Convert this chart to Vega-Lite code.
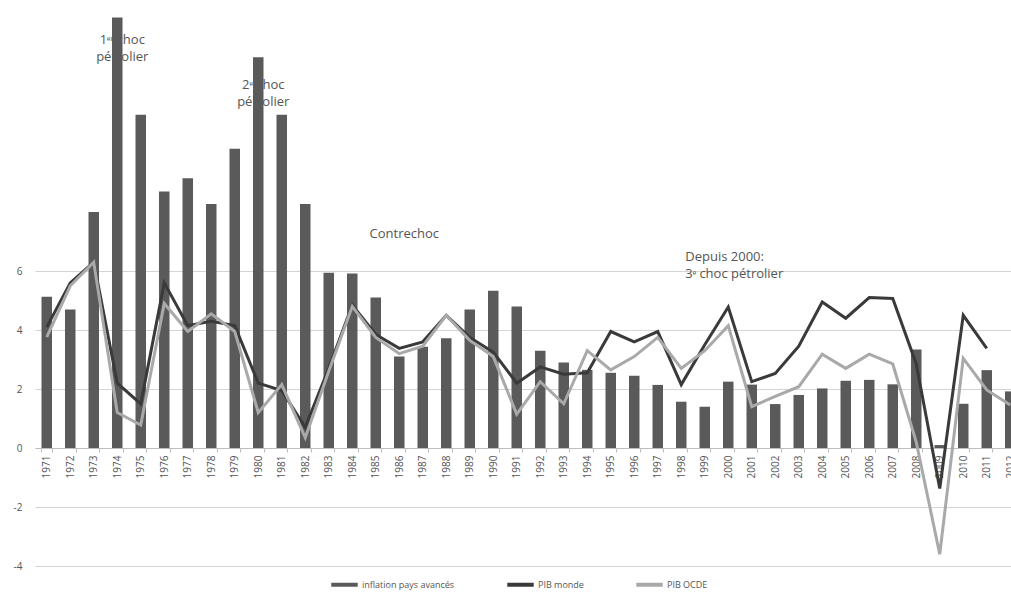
{
  "$schema": "https://vega.github.io/schema/vega-lite/v6.json",
  "autosize": "none",
  "width": 976,
  "height": 566,
  "padding": {"left": 35, "top": 0, "right": 0, "bottom": 33},
  "background": "white",
  "config": {
    "view": {"stroke": null},
    "font": "Open Sans",
    "axis": {"labelColor": "#555555", "labelFont": "Open Sans"},
    "legend": {"labelFont": "Open Sans"}
  },
  "datasets": {
    "series": [
      {"year": "1971", "inflation": 5.13, "monde": 4.1, "ocde": 3.76},
      {"year": "1972", "inflation": 4.7, "monde": 5.6, "ocde": 5.5},
      {"year": "1973", "inflation": 8.0, "monde": 6.3, "ocde": 6.3},
      {"year": "1974", "inflation": 14.6, "monde": 2.2, "ocde": 1.2},
      {"year": "1975", "inflation": 11.3, "monde": 1.5, "ocde": 0.78},
      {"year": "1976", "inflation": 8.7, "monde": 5.6, "ocde": 4.9},
      {"year": "1977", "inflation": 9.15, "monde": 4.15, "ocde": 3.95},
      {"year": "1978", "inflation": 8.27, "monde": 4.3, "ocde": 4.55},
      {"year": "1979", "inflation": 10.15, "monde": 4.15, "ocde": 3.95},
      {"year": "1980", "inflation": 13.25, "monde": 2.2, "ocde": 1.2},
      {"year": "1981", "inflation": 11.3, "monde": 1.95, "ocde": 2.15},
      {"year": "1982", "inflation": 8.27, "monde": 0.7, "ocde": 0.35},
      {"year": "1983", "inflation": 5.94, "monde": 2.7, "ocde": 2.6},
      {"year": "1984", "inflation": 5.92, "monde": 4.85, "ocde": 4.8},
      {"year": "1985", "inflation": 5.1, "monde": 3.85, "ocde": 3.75},
      {"year": "1986", "inflation": 3.1, "monde": 3.38, "ocde": 3.2},
      {"year": "1987", "inflation": 3.43, "monde": 3.6, "ocde": 3.45},
      {"year": "1988", "inflation": 3.72, "monde": 4.5, "ocde": 4.5},
      {"year": "1989", "inflation": 4.7, "monde": 3.75, "ocde": 3.65},
      {"year": "1990", "inflation": 5.33, "monde": 3.25, "ocde": 3.1},
      {"year": "1991", "inflation": 4.8, "monde": 2.2, "ocde": 1.15},
      {"year": "1992", "inflation": 3.3, "monde": 2.75, "ocde": 2.25},
      {"year": "1993", "inflation": 2.9, "monde": 2.5, "ocde": 1.5},
      {"year": "1994", "inflation": 2.65, "monde": 2.55, "ocde": 3.3},
      {"year": "1995", "inflation": 2.55, "monde": 3.95, "ocde": 2.65},
      {"year": "1996", "inflation": 2.45, "monde": 3.6, "ocde": 3.1},
      {"year": "1997", "inflation": 2.14, "monde": 3.95, "ocde": 3.75},
      {"year": "1998", "inflation": 1.57, "monde": 2.15, "ocde": 2.7},
      {"year": "1999", "inflation": 1.4, "monde": 3.5, "ocde": 3.3},
      {"year": "2000", "inflation": 2.25, "monde": 4.78, "ocde": 4.15},
      {"year": "2001", "inflation": 2.15, "monde": 2.25, "ocde": 1.4},
      {"year": "2002", "inflation": 1.49, "monde": 2.53, "ocde": 1.75},
      {"year": "2003", "inflation": 1.8, "monde": 3.45, "ocde": 2.08},
      {"year": "2004", "inflation": 2.02, "monde": 4.95, "ocde": 3.18},
      {"year": "2005", "inflation": 2.28, "monde": 4.4, "ocde": 2.7},
      {"year": "2006", "inflation": 2.31, "monde": 5.1, "ocde": 3.18},
      {"year": "2007", "inflation": 2.16, "monde": 5.07, "ocde": 2.85},
      {"year": "2008", "inflation": 3.34, "monde": 2.85, "ocde": 0.2},
      {"year": "2009", "inflation": 0.1, "monde": -1.37, "ocde": -3.6},
      {"year": "2010", "inflation": 1.5, "monde": 4.5, "ocde": 3.04},
      {"year": "2011", "inflation": 2.64, "monde": 3.38, "ocde": 1.97},
      {"year": "2012", "inflation": 1.92, "monde": null, "ocde": 1.46}
    ],
    "notes": [
      {"year": "1974", "value": 14.05, "label": "1ᵉʳ choc\npétrolier"},
      {"year": "1980", "value": 12.52, "label": "2ᵉ choc\npétrolier"},
      {"year": "1986", "value": 7.45, "label": "Contrechoc"}
    ],
    "notesLeft": [
      {"year": "1998", "value": 6.68, "label": "Depuis 2000:\n3ᵉ choc pétrolier"}
    ]
  },
  "layer": [
    {
      "data": {"name": "notes"},
      "mark": {"type": "text", "align": "center", "baseline": "top", "dx": 5, "fontSize": 13, "lineHeight": 17, "lineBreak": "\n", "color": "#555555"},
      "encoding": {
        "x": {"field": "year", "type": "ordinal"},
        "y": {"field": "value", "type": "quantitative"},
        "text": {"field": "label"}
      }
    },
    {
      "data": {"name": "notesLeft"},
      "mark": {"type": "text", "align": "left", "baseline": "top", "dx": 4, "fontSize": 13, "lineHeight": 17, "lineBreak": "\n", "color": "#555555"},
      "encoding": {
        "x": {"field": "year", "type": "ordinal"},
        "y": {"field": "value", "type": "quantitative"},
        "text": {"field": "label"}
      }
    },
    {
      "data": {"name": "series"},
      "mark": {"type": "bar", "width": 10.5},
      "encoding": {
        "x": {
          "field": "year", "type": "ordinal",
          "scale": {"range": [0, 987], "paddingInner": 0.55, "paddingOuter": 0.275},
          "axis": {
            "title": null, "labelAngle": -90, "labelFontSize": 10, "labelPadding": 3,
            "offset": -118, "domainColor": "#bdbdbd", "tickColor": "#bdbdbd",
            "tickBand": "extent", "tickSize": 4, "grid": false
          }
        },
        "y": {
          "field": "inflation", "type": "quantitative",
          "scale": {"domain": [-4, 15.19], "nice": false, "zero": false},
          "axis": {
            "title": null, "values": [-4, -2, 0, 2, 4, 6], "grid": true,
            "gridColor": "#d4d4d4", "gridWidth": 1, "domain": false, "ticks": false,
            "labelPadding": 13, "labelFontSize": 10,
            "labelExpr": "replace(datum.label, '−', '-')"
          }
        },
        "color": {
          "datum": "inflation pays avancés",
          "type": "nominal",
          "scale": {
            "domain": ["inflation pays avancés", "PIB monde", "PIB OCDE"],
            "range": ["#5a5a5a", "#3a3a3a", "#a9a9a9"]
          },
          "legend": {
            "title": null, "orient": "none", "legendX": 294, "legendY": 569, "direction": "horizontal",
            "symbolType": "stroke", "symbolStrokeWidth": 4, "symbolSize": 700,
            "labelFontSize": 9, "labelColor": "#555555", "columnPadding": 44,
            "labelOffset": 2
          }
        }
      }
    },
    {
      "data": {"name": "series"},
      "mark": {"type": "line", "strokeWidth": 3, "strokeJoin": "miter"},
      "encoding": {
        "x": {"field": "year", "type": "ordinal"},
        "y": {"field": "monde", "type": "quantitative"},
        "color": {"datum": "PIB monde", "type": "nominal"}
      }
    },
    {
      "data": {"name": "series"},
      "mark": {"type": "line", "strokeWidth": 3, "strokeJoin": "miter"},
      "encoding": {
        "x": {"field": "year", "type": "ordinal"},
        "y": {"field": "ocde", "type": "quantitative"},
        "color": {"datum": "PIB OCDE", "type": "nominal"}
      }
    }
  ]
}
